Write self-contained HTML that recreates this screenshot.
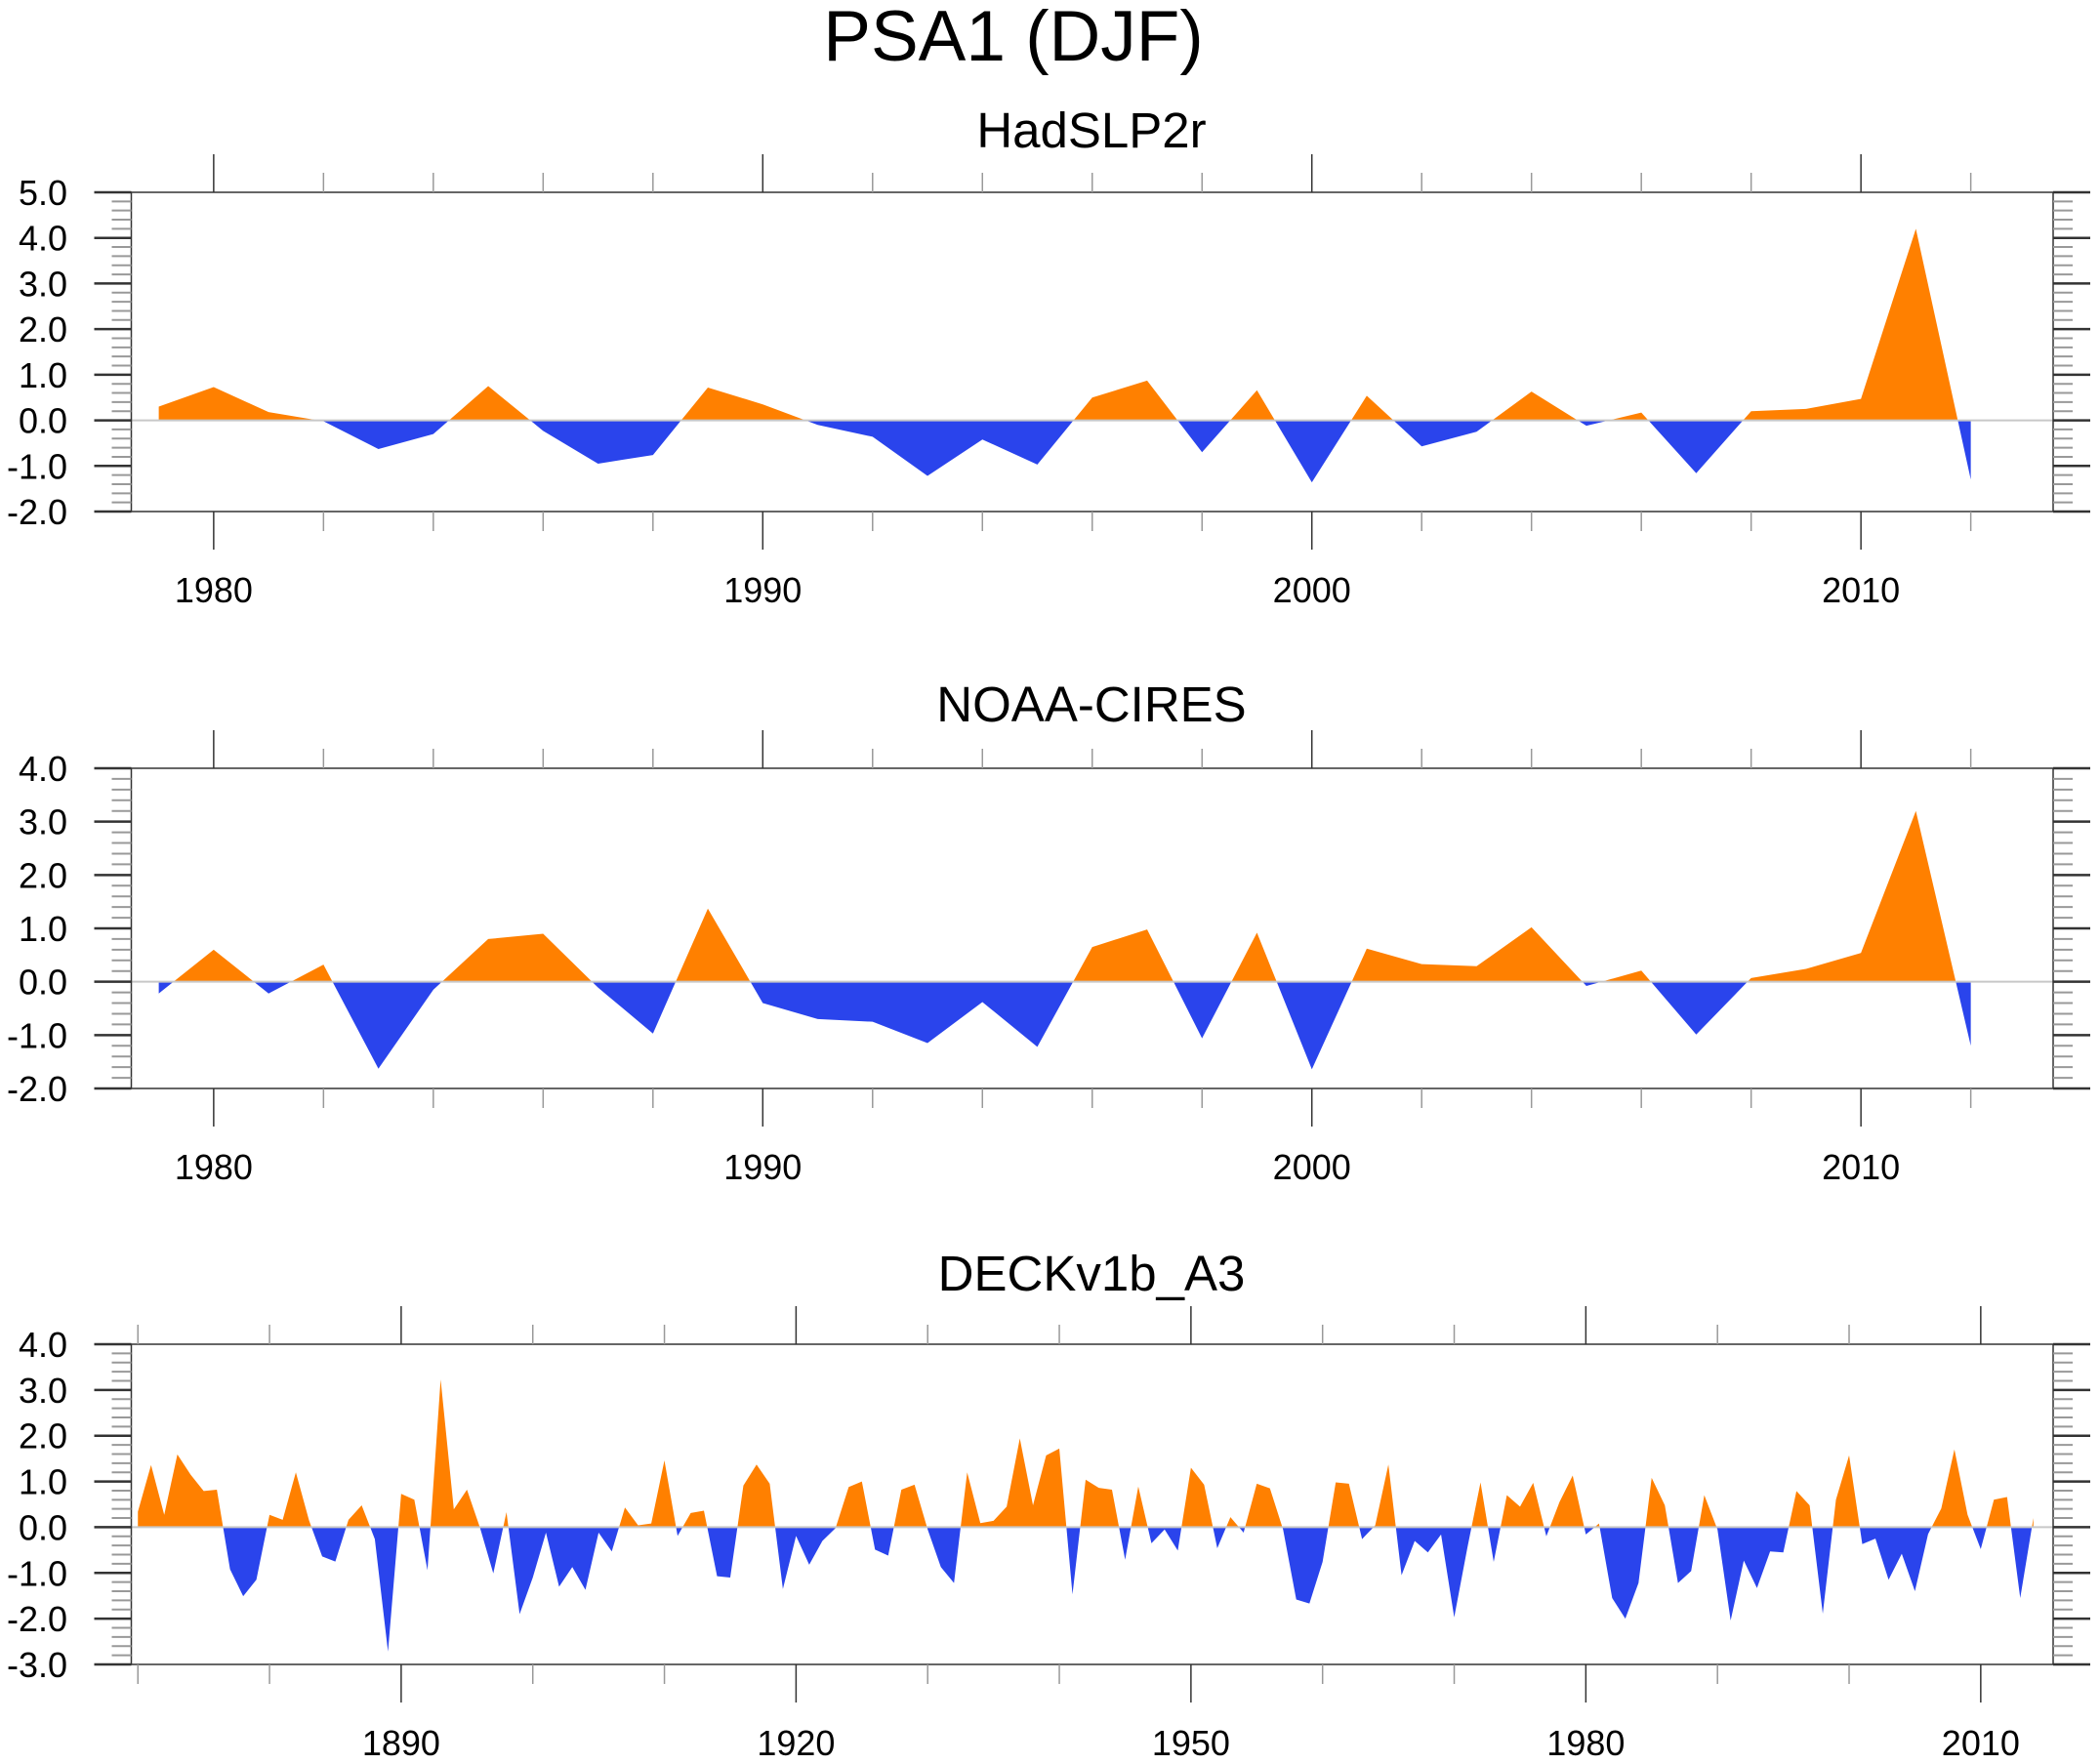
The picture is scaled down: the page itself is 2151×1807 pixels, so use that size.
<!DOCTYPE html>
<html><head><meta charset="utf-8">
<style>
html,body{margin:0;padding:0;background:#fff;}
svg{display:block;font-family:"Liberation Sans",Arial,sans-serif;}
</style></head>
<body>
<svg id="chart" width="2151" height="1807" viewBox="0 0 2151 1807" xmlns="http://www.w3.org/2000/svg">
<text x="1038" y="62" font-size="73" text-anchor="middle">PSA1 (DJF)</text>
</svg>
<script>
const hadYears = [1979,1980,1981,1982,1983,1984,1985,1986,1987,1988,1989,1990,1991,1992,1993,1994,1995,1996,1997,1998,1999,2000,2001,2002,2003,2004,2005,2006,2007,2008,2009,2010,2011,2012];
const hadValues = [0.3,0.73,0.18,-0.02,-0.63,-0.3,0.75,-0.23,-0.95,-0.76,0.72,0.35,-0.1,-0.36,-1.22,-0.42,-0.97,0.5,0.87,-0.7,0.66,-1.36,0.54,-0.57,-0.25,0.63,-0.12,0.17,-1.16,0.2,0.25,0.47,4.2,-1.3];
const noaaYears = hadYears;
const noaaValues = [-0.22,0.6,-0.22,0.32,-1.63,-0.15,0.8,0.9,-0.11,-0.97,1.37,-0.4,-0.7,-0.75,-1.15,-0.38,-1.22,0.65,0.98,-1.06,0.92,-1.64,0.62,0.33,0.29,1.02,-0.08,0.21,-0.99,0.07,0.24,0.54,3.2,-1.2];
const deckStart = 1870;
const deckValues = [0.34,1.36,0.27,1.59,1.15,0.79,0.82,-0.92,-1.51,-1.15,
0.27,0.16,1.2,0.15,-0.64,-0.75,0.16,0.48,-0.26,-2.72,
0.73,0.6,-0.94,3.23,0.39,0.82,-0.02,-1.01,0.33,-1.9,
-1.1,-0.12,-1.3,-0.87,-1.37,-0.12,-0.53,0.43,0.04,0.08,
1.46,-0.19,0.31,0.36,-1.07,-1.1,0.91,1.37,0.95,-1.35,
-0.19,-0.82,-0.3,-0.02,0.88,1.0,-0.49,-0.62,0.82,0.93,
-0.05,-0.87,-1.22,1.2,0.09,0.14,0.45,1.94,0.48,1.57,
1.72,-1.47,1.04,0.86,0.82,-0.71,0.89,-0.35,-0.05,-0.51,
1.3,0.93,-0.46,0.22,-0.12,0.95,0.85,-0.05,-1.58,-1.67,
-0.76,0.98,0.95,-0.26,0.04,1.37,-1.05,-0.3,-0.55,-0.16,
-1.97,-0.45,0.98,-0.76,0.7,0.45,0.97,-0.2,0.55,1.13,
-0.16,0.08,-1.55,-2.0,-1.22,1.08,0.48,-1.22,-0.96,0.7,
-0.05,-2.04,-0.73,-1.33,-0.53,-0.55,0.79,0.48,-1.89,0.6,
1.57,-0.37,-0.25,-1.15,-0.58,-1.4,-0.15,0.41,1.7,0.27,
-0.48,0.6,0.66,-1.55,0.2];
const deckYears = deckValues.map((v,i)=>deckStart+i);
const topMajorX = [1980,1990,2000,2010];
const deckMajorX = [1890,1920,1950,1980,2010];

const NS="http://www.w3.org/2000/svg";
const svg=document.getElementById('chart');
function mk(tag,attrs,parent){const e=document.createElementNS(NS,tag);for(const k in attrs)e.setAttribute(k,attrs[k]);(parent||svg).appendChild(e);return e;}
const L=134.5,R=2103;
let clipId=0;
function panel(p){
  const g=mk('g',{});
  
  
  const xs=v=>L+(v-p.xmin)/(p.xmax-p.xmin)*(R-L);
  const ys=v=>p.top+(p.ymax-v)/(p.ymax-p.ymin)*(p.bottom-p.top);
  const t=mk('text',{x:1118,y:p.top-p.titleOff,'font-size':51,'text-anchor':'middle'},g);
  t.textContent=p.title;
  
  
  const z=ys(0);
  const ida='ca'+(++clipId), idb='cb'+clipId;
  const defs=mk('defs',{},g);
  const ca=mk('clipPath',{id:ida},defs); mk('rect',{x:L,y:p.top,width:R-L,height:z-p.top},ca);
  const cb=mk('clipPath',{id:idb},defs); mk('rect',{x:L,y:z,width:R-L,height:p.bottom-z},cb);
  let d='M'+xs(p.years[0])+','+z;
  p.vals.forEach((v,i)=>{d+=' L'+xs(p.years[i]).toFixed(2)+','+ys(v).toFixed(2);});
  d+=' L'+xs(p.years[p.years.length-1])+','+z+' Z';
  const pa=mk('path',{d:d,fill:'#ff8000','clip-path':'url(#'+ida+')'},g);
  
  
  const pb=mk('path',{d:d,fill:'#2a44ec','clip-path':'url(#'+idb+')'},g);
  
  
  const zl=mk('line',{x1:L,x2:R,y1:z,y2:z,stroke:'#c8c8c8','stroke-width':2},g);
  
  
  const fr=mk('rect',{x:L,y:p.top,width:R-L,height:p.bottom-p.top,fill:'none',stroke:'#333','stroke-width':1.5},g);
  
  
  for(let k=Math.round(p.ymin*5);k<=Math.round(p.ymax*5);k++){
    const v=k/5, y=ys(v), major=(k%5===0);
    const len=major?38:20;
    mk('line',{x1:L-len,x2:L,y1:y,y2:y,stroke:major?'#333':'#999','stroke-width':major?2.5:2},g);
    mk('line',{x1:R,x2:R+len,y1:y,y2:y,stroke:major?'#333':'#999','stroke-width':major?2.5:2},g);
    if(major){
      const lb=mk('text',{x:69,y:y+13,'font-size':36,'text-anchor':'end'},g);
      lb.textContent=v.toFixed(1);
      
      
    }
  }
  for(let yr=p.minStart;yr<=p.xmax;yr+=p.minStep){
    const x=xs(yr), major=p.majors.includes(yr);
    const len=major?39:20;
    mk('line',{x1:x,x2:x,y1:p.top-len,y2:p.top,stroke:major?'#333':'#999','stroke-width':1.5},g);
    mk('line',{x1:x,x2:x,y1:p.bottom,y2:p.bottom+len,stroke:major?'#333':'#999','stroke-width':1.5},g);
  }
  p.majors.forEach(yr=>{
    const lb=mk('text',{x:xs(yr),y:p.bottom+93,'font-size':36,'text-anchor':'middle'},g);
    lb.textContent=yr;
    
    
  });
}
panel({name:'hadslp2r',title:'HadSLP2r',titleOff:46,top:197,bottom:524,ymin:-2,ymax:5,xmin:1978.5,xmax:2013.5,years:hadYears,vals:hadValues,majors:topMajorX,minStart:1980,minStep:2});
panel({name:'noaa-cires',title:'NOAA-CIRES',titleOff:48,top:787,bottom:1115,ymin:-2,ymax:4,xmin:1978.5,xmax:2013.5,years:noaaYears,vals:noaaValues,majors:topMajorX,minStart:1980,minStep:2});
panel({name:'deckv1b-a3',title:'DECKv1b_A3',titleOff:55,top:1377,bottom:1705,ymin:-3,ymax:4,xmin:1869.5,xmax:2015.5,years:deckYears,vals:deckValues,majors:deckMajorX,minStart:1870,minStep:10});
</script>
</body></html>
